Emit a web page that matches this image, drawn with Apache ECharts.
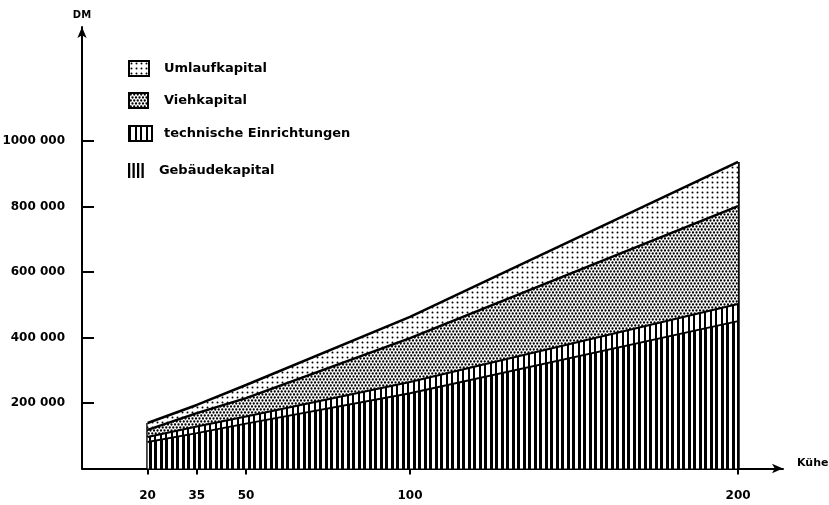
<!DOCTYPE html>
<html>
<head>
<meta charset="utf-8">
<script src="https://cdn.jsdelivr.net/npm/echarts@6/dist/echarts.min.js"></script>
<style>
  html, body { margin: 0; padding: 0; background: #fff; }
  #chart { width: 829px; height: 505px; }
</style>
</head>
<body>
<div id="chart"></div>
<script>
// Herd size (number of cows) and capital components in DM
const herdSizes = [20, 35, 50, 100, 200];
const gebaeudekapital = [81000, 108000, 137000, 230000, 450000];
const technischeEinrichtungen = [15000, 20000, 22000, 34000, 52000];
const viehkapital = [22000, 41000, 56000, 134000, 299000];
const umlaufkapital = [21000, 25000, 40000, 65000, 135000];

const xTickValues = [20, 35, 50, 100, 200];
const yTickValues = [200000, 400000, 600000, 800000, 1000000];

const seriesNames = ['Gebäudekapital', 'technische Einrichtungen', 'Viehkapital', 'Umlaufkapital'];

// Black-and-white hatch / screen patterns built on small canvases
function tile(w, h, draw) {
  const c = document.createElement('canvas');
  c.width = w; c.height = h;
  const ctx = c.getContext('2d');
  ctx.fillStyle = '#fff';
  ctx.fillRect(0, 0, w, h);
  ctx.fillStyle = '#000';
  draw(ctx);
  return { image: c, repeat: 'repeat' };
}
function dot(ctx, x, y, r) {
  ctx.beginPath(); ctx.arc(x, y, r, 0, Math.PI * 2); ctx.fill();
}
const patGebaeude = tile(11, 4, ctx => { ctx.fillRect(0, 0, 3, 4); ctx.fillRect(6, 0, 3, 4); });
const patTechnik = tile(11, 4, ctx => { ctx.fillRect(0, 0, 2, 4); ctx.fillRect(6, 0, 2, 4); });
const patVieh = tile(7, 6, ctx => {
  const r = 1.15;
  dot(ctx, 1.75, 1.5, r); dot(ctx, 5.25, 1.5, r);
  dot(ctx, 0, 4.5, r); dot(ctx, 3.5, 4.5, r); dot(ctx, 7, 4.5, r);
});
const patUmlauf = tile(5, 5, ctx => { dot(ctx, 2.5, 2.5, 1.0); });

const fills = [patGebaeude, patTechnik, patVieh, patUmlauf];
const values = [gebaeudekapital, technischeEinrichtungen, viehkapital, umlaufkapital];
const lineWidths = [2, 2, 2.5, 2.5];

// stacked totals for the closing vertical edges
const totals = herdSizes.map((_, i) => values.reduce((s, arr) => s + arr[i], 0));
const first = 0, last = herdSizes.length - 1;

const font = 'DejaVu Sans';

// value first, herd size second, so stacking runs on the DM dimension;
// lower layers get a higher z so every boundary line stays on top of the fill above it
const series = values.map((arr, k) => {
  const s = {
    name: seriesNames[k],
    type: 'line',
    stack: 'kapital',
    data: herdSizes.map((x, i) => [arr[i], x]),
    encode: { x: 1, y: 0 },
    showSymbol: false,
    symbol: 'none',
    lineStyle: { color: '#000', width: lineWidths[k] },
    itemStyle: { color: '#000' },
    areaStyle: { color: fills[k], opacity: 1 },
    z: 10 - k
  };
  if (k === 0) {
    s.markLine = {
      silent: true,
      symbol: 'none',
      label: { show: false },
      lineStyle: { color: '#000', width: 2.5, type: 'solid' },
      data: [
        [{ coord: [herdSizes[first], 0] }, { coord: [herdSizes[first], totals[first]] }],
        [{ coord: [herdSizes[last], 0] }, { coord: [herdSizes[last], totals[last]] }]
      ]
    };
  }
  return s;
});

// one legend block per entry so each row sits at its own height
function legendRow(name, top, iconW, icon, style) {
  return {
    data: [{ name: name, icon: icon, itemStyle: style }],
    left: 128, top: top,
    padding: 0,
    orient: 'vertical',
    itemWidth: iconW, itemHeight: 15,
    selectedMode: false,
    textStyle: {
      fontFamily: font, fontWeight: 'bold', fontSize: 13, color: '#000',
      padding: [3, 0, 0, 163 - (128 + iconW + 5)]
    }
  };
}

const option = {
  animation: false,
  backgroundColor: '#fff',
  grid: { left: 82, top: 27, width: 701, height: 441.5, outerBoundsMode: 'none' },
  legend: [
    legendRow('Umlaufkapital', 60, 20, 'rect', { color: patUmlauf, borderColor: '#000', borderWidth: 2 }),
    legendRow('Viehkapital', 92, 19, 'rect', { color: patVieh, borderColor: '#000', borderWidth: 2 }),
    legendRow('technische Einrichtungen', 125, 23, 'rect', { color: patTechnik, borderColor: '#000', borderWidth: 2 }),
    legendRow('Gebäudekapital', 163, 24,
      'path://M0,0h3v20h-3zM6,0h3v20h-3zM12,0h3v20h-3zM18,0h3v20h-3z',
      { color: '#000', borderWidth: 0 })
  ],
  xAxis: {
    type: 'value',
    min: 0, max: 213.7,
    name: 'Kühe',
    nameLocation: 'end',
    nameGap: 14,
    nameTextStyle: { fontFamily: font, fontWeight: 'bold', fontSize: 11, color: '#000', verticalAlign: 'bottom', lineHeight: 10 },
    axisLine: { onZero: true, symbol: ['none', 'arrow'], symbolSize: [7, 11], lineStyle: { color: '#000', width: 2 } },
    axisTick: { show: true, customValues: xTickValues, inside: false, length: 6, lineStyle: { color: '#000', width: 2 } },
    axisLabel: {
      customValues: xTickValues,
      margin: 21,
      fontFamily: font, fontWeight: 'bold', fontSize: 12, color: '#000'
    },
    splitLine: { show: false }
  },
  yAxis: {
    type: 'value',
    min: 0, max: 1348000, interval: 200000,
    name: 'DM',
    nameLocation: 'end',
    nameGap: 7,
    nameTextStyle: { fontFamily: font, fontWeight: 'bold', fontSize: 10, color: '#000' },
    axisLine: { show: true, symbol: ['none', 'arrow'], symbolSize: [7, 11], lineStyle: { color: '#000', width: 2 } },
    axisTick: { show: true, customValues: yTickValues, inside: true, length: 12, lineStyle: { color: '#000', width: 2 } },
    axisLabel: {
      customValues: yTickValues,
      margin: 17,
      fontFamily: font, fontWeight: 'bold', fontSize: 12, color: '#000',
      formatter: v => (v / 1000) + ' 000'
    },
    splitLine: { show: false }
  },
  series: series
};

const chart = echarts.init(document.getElementById('chart'), null, { renderer: 'canvas' });
chart.setOption(option);
</script>
</body>
</html>
